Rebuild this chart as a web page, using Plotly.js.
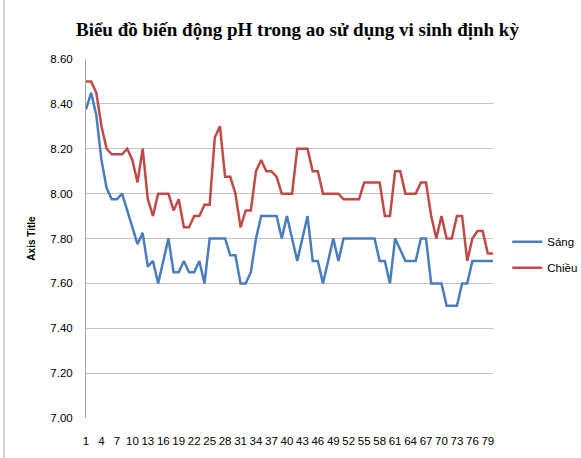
<!DOCTYPE html>
<html>
<head>
<meta charset="utf-8">
<script src="https://cdn.plot.ly/plotly-3.0.1.min.js"></script>
<style>
  html, body { margin: 0; padding: 0; background: #fff; }
  #chart { width: 581px; height: 458px; }
</style>
</head>
<body>
<div id="chart"></div>
<script>
// pH readings, 80 samples
const days = Array.from({ length: 80 }, (_, i) => String(i + 1));
const tickDays = days.filter((d, i) => i % 3 === 0);

const sang = [
  8.375, 8.45, 8.35, 8.15, 8.025, 7.975, 7.975, 8.00, 7.925, 7.85,
  7.775, 7.825, 7.675, 7.70, 7.60, 7.70, 7.80, 7.65, 7.65, 7.70,
  7.65, 7.65, 7.70, 7.60, 7.80, 7.80, 7.80, 7.80, 7.725, 7.725,
  7.60, 7.60, 7.65, 7.80, 7.90, 7.90, 7.90, 7.90, 7.80, 7.90,
  7.80, 7.70, 7.80, 7.90, 7.70, 7.70, 7.60, 7.70, 7.80, 7.70,
  7.80, 7.80, 7.80, 7.80, 7.80, 7.80, 7.80, 7.70, 7.70, 7.60,
  7.80, 7.75, 7.70, 7.70, 7.70, 7.80, 7.80, 7.60, 7.60, 7.60,
  7.50, 7.50, 7.50, 7.60, 7.60, 7.70, 7.70, 7.70, 7.70, 7.70
];

const chieu = [
  8.50, 8.50, 8.45, 8.30, 8.20, 8.175, 8.175, 8.175, 8.20, 8.15,
  8.05, 8.20, 7.975, 7.90, 8.00, 8.00, 8.00, 7.925, 7.975, 7.85,
  7.85, 7.90, 7.90, 7.95, 7.95, 8.25, 8.30, 8.075, 8.075, 8.00,
  7.85, 7.925, 7.925, 8.10, 8.15, 8.10, 8.10, 8.075, 8.00, 8.00,
  8.00, 8.20, 8.20, 8.20, 8.10, 8.10, 8.00, 8.00, 8.00, 8.00,
  7.975, 7.975, 7.975, 7.975, 8.05, 8.05, 8.05, 8.05, 7.90, 7.90,
  8.10, 8.10, 8.00, 8.00, 8.00, 8.05, 8.05, 7.90, 7.80, 7.90,
  7.80, 7.80, 7.90, 7.90, 7.70, 7.80, 7.833, 7.833, 7.733, 7.733
];

const tickFont = { family: "Liberation Sans, Arial, sans-serif", size: 11.5, color: "#000" };

const traces = [
  {
    x: days, y: sang, name: "Sáng", type: "scatter", mode: "lines",
    legendgroup: "sang",
    line: { color: "#4A7EBB", width: 2.5 }
  },
  {
    x: days, y: chieu, name: "Chiều", type: "scatter", mode: "lines",
    legendgroup: "chieu",
    line: { color: "#BE4B48", width: 2.5 }
  }
];

// left border of the chart frame, partly visible at the edge
const plotL = 86, plotR = 493;
const frameX = (4 - plotL) / (plotR - plotL);

const layout = {
  width: 581,
  height: 458,
  margin: { l: plotL, r: 581 - plotR, t: 59, b: 40, autoexpand: false },
  paper_bgcolor: "#fff",
  plot_bgcolor: "#fff",
  showlegend: true,
  title: {
    text: "<b>Biểu đồ biến động pH trong ao sử dụng vi sinh định kỳ</b>",
    font: { family: "Liberation Serif, Times New Roman, serif", size: 19, color: "#000" },
    x: 0.512, xanchor: "center",
    y: 0.935, yanchor: "middle"
  },
  xaxis: {
    type: "category",
    tickmode: "array",
    tickvals: tickDays,
    ticktext: tickDays,
    tickangle: 0,
    tickfont: tickFont,
    ticklabelstandoff: 14,
    showgrid: false,
    showline: false,
    zeroline: false,
    ticks: ""
  },
  yaxis: {
    range: [7.0, 8.6],
    dtick: 0.2,
    tick0: 7.0,
    tickformat: ".2f",
    tickfont: tickFont,
    ticklabelstandoff: 10,
    showgrid: true,
    gridcolor: "#C4C4C4",
    gridwidth: 1,
    showline: true,
    linecolor: "#A6A6A6",
    linewidth: 1,
    zeroline: false,
    ticks: "",
    title: {
      text: "<b>Axis Title</b>",
      font: { family: "Liberation Sans, Arial, sans-serif", size: 10, color: "#000" },
      standoff: 12
    }
  },
  legend: {
    x: 1.035, xanchor: "left",
    y: 0.455, yanchor: "middle",
    font: { family: "Liberation Sans, Arial, sans-serif", size: 11.5, color: "#000" },
    bgcolor: "rgba(0,0,0,0)",
    tracegroupgap: 7
  },
  shapes: [
    {
      type: "line", xref: "paper", yref: "paper",
      x0: frameX, x1: frameX, y0: -0.12, y1: 1.17,
      line: { color: "#A6A6A6", width: 1 }
    }
  ]
};

Plotly.newPlot("chart", traces, layout, { displayModeBar: false, staticPlot: true });
</script>
</body>
</html>
